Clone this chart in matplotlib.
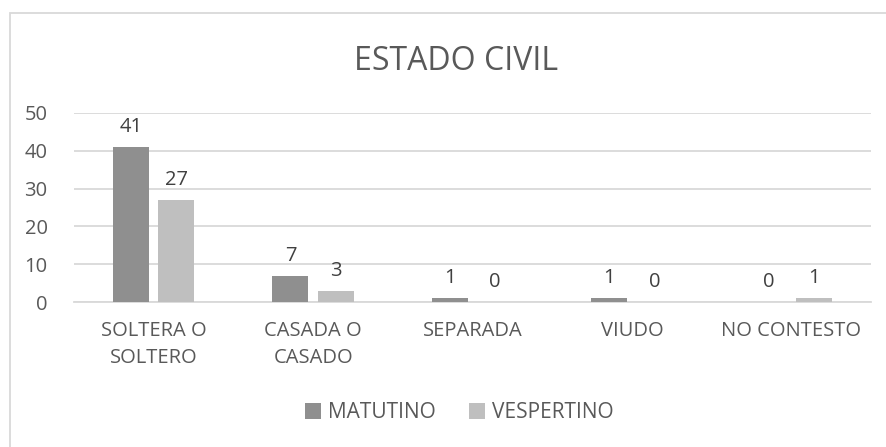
import numpy as np
import matplotlib
matplotlib.use("Agg")
import matplotlib.pyplot as plt
from matplotlib.patches import Rectangle

categorias = ["SOLTERA O\nSOLTERO", "CASADA O\nCASADO", "SEPARADA", "VIUDO", "NO CONTESTO"]
matutino = [41, 7, 1, 1, 0]
vespertino = [27, 3, 0, 0, 1]
series = ["MATUTINO", "VESPERTINO"]

gris_texto = "#595959"
plt.rcParams["font.family"] = ["Open Sans", "DejaVu Sans"]

fig = plt.figure(figsize=(8.86, 4.47), dpi=100)
fig.patches.append(Rectangle((10 / 886, -0.1), 1.2, (447 - 13) / 447 + 0.1,
                             transform=fig.transFigure, fill=False,
                             edgecolor="#d9d9d9", linewidth=1.3))
ax = fig.add_axes([74 / 886, 145 / 447, 797 / 886, 189 / 447])

x = np.arange(len(categorias))
ancho = 0.226
desp = 0.142
b1 = ax.bar(x - desp, matutino, ancho, color="#8f8f8f", label=series[0], zorder=3)
b2 = ax.bar(x + desp, vespertino, ancho, color="#bfbfbf", label=series[1], zorder=3)
for barras in (b1, b2):
    ax.bar_label(barras, padding=7, fontsize=14.5, color="#404040")

ax.set_xlim(-0.5, len(categorias) - 0.5)
ax.set_ylim(0, 50)
ax.set_yticks(range(0, 51, 10))
ax.yaxis.grid(True, color="#d9d9d9", linewidth=1.3, zorder=0)
for s in ["top", "right", "left"]:
    ax.spines[s].set_visible(False)
ax.spines["bottom"].set_color("#d9d9d9")
ax.spines["bottom"].set_linewidth(1.3)
ax.tick_params(length=0, colors=gris_texto, labelsize=14.5)
ax.tick_params(axis="y", pad=19)
ax.tick_params(axis="x", pad=14)
ax.set_xticks(x)
ax.set_xticklabels(categorias, linespacing=1.45)

fig.text(0.515, 0.862, "ESTADO CIVIL", ha="center", va="center",
         fontsize=23, color=gris_texto)
fig.legend(loc="center", bbox_to_anchor=(0.518, 0.077), ncol=2, frameon=False,
           fontsize=15, labelcolor=gris_texto, handlelength=0.8, handleheight=0.8,
           handletextpad=0.3, columnspacing=1.6)

fig.savefig("out.png", dpi=100)
